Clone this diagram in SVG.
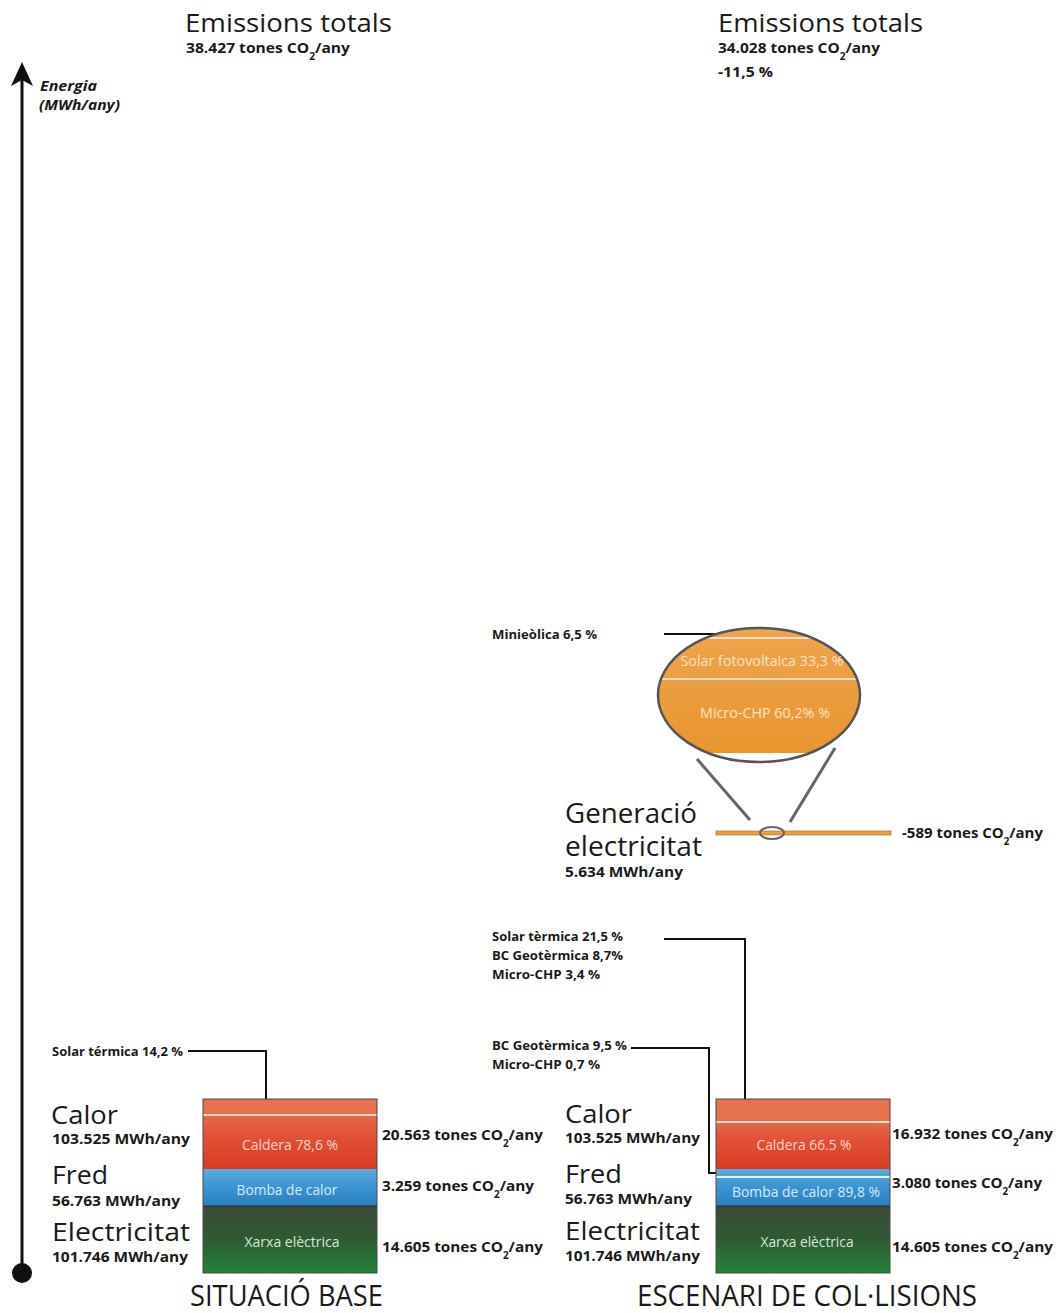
<svg xmlns="http://www.w3.org/2000/svg" width="1061" height="1313" viewBox="0 0 1061 1313">
<style>
text{font-family:"Open Sans","Noto Sans","Liberation Sans",sans-serif;fill:#1a1a1a}
.h{font-size:25px;font-weight:500}
.g{font-size:27px;font-weight:500}
.t{font-size:29px;font-weight:500}
.b{font-size:15px;font-weight:700}
.s{font-size:13px;font-weight:700}
.ax{font-size:14px;font-weight:700;font-style:italic}
.in{font-size:14px;fill:#f7d3c6;text-anchor:middle}
.inb{font-size:14px;fill:#d6ecf8;text-anchor:middle}
.ing{font-size:14px;fill:#d8e8d2;text-anchor:middle}
.ino{font-size:14px;fill:#fbe3c6;text-anchor:middle}
.sub{font-size:65%;baseline-shift:sub}
.con{fill:none;stroke:#111;stroke-width:2}
.gl{fill:none;stroke:#666;stroke-width:3}
.wl{stroke:#f6dccd;stroke-width:2}
.sep{stroke:#2a2a2a;stroke-width:1.2}
.box{fill:none;stroke:#4a4a4a;stroke-width:1}
</style>
<defs>
<linearGradient id="gRed" x1="0" y1="0" x2="0" y2="1">
<stop offset="0" stop-color="#e6684a"/><stop offset="0.35" stop-color="#e25238"/><stop offset="1" stop-color="#d63c24"/>
</linearGradient>
<linearGradient id="gBlue" x1="0" y1="0" x2="0" y2="1">
<stop offset="0" stop-color="#5fabdc"/><stop offset="0.5" stop-color="#3a93d0"/><stop offset="1" stop-color="#2b7fbf"/>
</linearGradient>
<linearGradient id="gGreen" x1="0" y1="0" x2="0" y2="1">
<stop offset="0" stop-color="#3c4a38"/><stop offset="0.5" stop-color="#2f5a33"/><stop offset="1" stop-color="#21843a"/>
</linearGradient>
<linearGradient id="gOr" x1="0" y1="0" x2="0" y2="1">
<stop offset="0" stop-color="#efa54e"/><stop offset="1" stop-color="#e8952f"/>
</linearGradient>
<clipPath id="clipE"><ellipse cx="759" cy="695" rx="101" ry="67"/></clipPath>
</defs>

<!-- axis -->
<g id="axis">
<line x1="22" y1="80" x2="22" y2="1273" stroke="#111" stroke-width="3"/>
<polygon points="22,62 11,86 22,80 33,86" fill="#111"/>
<circle cx="22" cy="1273" r="10" fill="#111"/>
<text class="ax" x="40" y="91" textLength="57" lengthAdjust="spacingAndGlyphs">Energia</text>
<text class="ax" x="39" y="110" textLength="81" lengthAdjust="spacingAndGlyphs">(MWh/any)</text>
</g>

<!-- headers -->
<g id="header-base">
<text class="h" x="185" y="32" textLength="207" lengthAdjust="spacingAndGlyphs">Emissions totals</text>
<text class="b" x="186" y="53" textLength="164" lengthAdjust="spacingAndGlyphs">38.427 tones CO<tspan class="sub">2</tspan>/any</text>
</g>
<g id="header-escenari">
<text class="h" x="718" y="32" textLength="205" lengthAdjust="spacingAndGlyphs">Emissions totals</text>
<text class="b" x="718" y="53" textLength="162" lengthAdjust="spacingAndGlyphs">34.028 tones CO<tspan class="sub">2</tspan>/any</text>
<text class="b" x="718" y="77" textLength="55" lengthAdjust="spacingAndGlyphs">-11,5 %</text>
</g>

<!-- connectors -->
<g id="connectors">
<polyline class="con" points="188,1051 266,1051 266,1108"/>
<polyline class="con" points="664,939 745,939 745,1109"/>
<polyline class="con" points="631,1048 709,1048 709,1173 723,1173"/>
<line class="con" x1="664" y1="634" x2="740" y2="634"/>
<line class="gl" x1="697" y1="759" x2="750" y2="820"/>
<line class="gl" x1="835" y1="748" x2="790" y2="822"/>
</g>

<!-- zoom ellipse -->
<g id="ellipse-generacio">
<g clip-path="url(#clipE)">
<rect x="650" y="626" width="220" height="127" fill="url(#gOr)"/>
<line class="wl" x1="650" y1="638" x2="870" y2="638"/>
<line class="wl" x1="650" y1="679" x2="870" y2="679"/>
</g>
<ellipse cx="759" cy="695" rx="101" ry="67" fill="none" stroke="#555" stroke-width="2.5"/>
<text class="ino" x="762" y="666" textLength="163" lengthAdjust="spacingAndGlyphs">Solar fotovoltaica 33,3 %</text>
<text class="ino" x="765" y="718" textLength="130" lengthAdjust="spacingAndGlyphs">Micro-CHP 60,2% %</text>
<text class="s" x="492" y="639" textLength="105" lengthAdjust="spacingAndGlyphs">Minieòlica 6,5 %</text>
</g>

<!-- generation bar -->
<g id="generacio">
<rect x="716" y="831" width="175" height="4" fill="#eaa040" stroke="#b9813a" stroke-width="0.8"/>
<ellipse cx="772" cy="833" rx="12" ry="6" fill="none" stroke="#666" stroke-width="2"/>
<text class="g" x="565" y="823" textLength="132" lengthAdjust="spacingAndGlyphs">Generació</text>
<text class="g" x="565" y="856" textLength="137" lengthAdjust="spacingAndGlyphs">electricitat</text>
<text class="b" x="565" y="877" textLength="118" lengthAdjust="spacingAndGlyphs">5.634 MWh/any</text>
<text class="b" x="902" y="838" textLength="141" lengthAdjust="spacingAndGlyphs">-589 tones CO<tspan class="sub">2</tspan>/any</text>
</g>

<!-- contribution labels -->
<g id="labels-escenari">
<text class="s" x="492" y="941" textLength="131" lengthAdjust="spacingAndGlyphs">Solar tèrmica 21,5 %</text>
<text class="s" x="492" y="960" textLength="131" lengthAdjust="spacingAndGlyphs">BC Geotèrmica 8,7%</text>
<text class="s" x="492" y="979" textLength="108" lengthAdjust="spacingAndGlyphs">Micro-CHP 3,4 %</text>
<text class="s" x="492" y="1050" textLength="135" lengthAdjust="spacingAndGlyphs">BC Geotèrmica 9,5 %</text>
<text class="s" x="492" y="1069" textLength="108" lengthAdjust="spacingAndGlyphs">Micro-CHP 0,7 %</text>
</g>
<g id="labels-base">
<text class="s" x="52" y="1056" textLength="131" lengthAdjust="spacingAndGlyphs">Solar térmica 14,2 %</text>
</g>

<!-- base stack -->
<g id="stack-base">
<rect x="203" y="1099" width="174" height="17" fill="#e5714e"/>
<rect x="203" y="1116" width="174" height="53" fill="url(#gRed)"/>
<line class="wl" x1="203" y1="1115" x2="377" y2="1115"/>
<rect x="203" y="1169" width="174" height="37" fill="url(#gBlue)"/>
<rect x="203" y="1206" width="174" height="67" fill="url(#gGreen)"/>
<line class="sep" x1="203" y1="1206" x2="377" y2="1206"/>
<rect class="box" x="203" y="1099" width="174" height="174"/>
<text class="in" x="290" y="1150" textLength="96" lengthAdjust="spacingAndGlyphs">Caldera 78,6 %</text>
<text class="inb" x="287" y="1195" textLength="101" lengthAdjust="spacingAndGlyphs">Bomba de calor</text>
<text class="ing" x="292" y="1247" textLength="95" lengthAdjust="spacingAndGlyphs">Xarxa elèctrica</text>
</g>
<g id="text-base">
<text class="h" x="51" y="1124" textLength="67" lengthAdjust="spacingAndGlyphs">Calor</text>
<text class="b" x="52" y="1144" textLength="138" lengthAdjust="spacingAndGlyphs">103.525 MWh/any</text>
<text class="h" x="52" y="1184" textLength="56" lengthAdjust="spacingAndGlyphs">Fred</text>
<text class="b" x="52" y="1206" textLength="128" lengthAdjust="spacingAndGlyphs">56.763 MWh/any</text>
<text class="h" x="52" y="1241" textLength="138" lengthAdjust="spacingAndGlyphs">Electricitat</text>
<text class="b" x="52" y="1262" textLength="136" lengthAdjust="spacingAndGlyphs">101.746 MWh/any</text>
<text class="b" x="382" y="1140" textLength="161" lengthAdjust="spacingAndGlyphs">20.563 tones CO<tspan class="sub">2</tspan>/any</text>
<text class="b" x="382" y="1191" textLength="152" lengthAdjust="spacingAndGlyphs">3.259 tones CO<tspan class="sub">2</tspan>/any</text>
<text class="b" x="382" y="1252" textLength="161" lengthAdjust="spacingAndGlyphs">14.605 tones CO<tspan class="sub">2</tspan>/any</text>
<text class="t" x="190" y="1306" textLength="193" lengthAdjust="spacingAndGlyphs">SITUACIÓ BASE</text>
</g>

<!-- escenari stack -->
<g id="stack-escenari">
<rect x="716" y="1099" width="174" height="23" fill="#e5714e"/>
<rect x="716" y="1123" width="174" height="46" fill="url(#gRed)"/>
<line class="wl" x1="716" y1="1122" x2="890" y2="1122"/>
<rect x="716" y="1169" width="174" height="37" fill="url(#gBlue)"/>
<line stroke="#e6f2fa" stroke-width="2" x1="716" y1="1177" x2="890" y2="1177"/>
<rect x="716" y="1206" width="174" height="67" fill="url(#gGreen)"/>
<line class="sep" x1="716" y1="1206" x2="890" y2="1206"/>
<rect class="box" x="716" y="1099" width="174" height="174"/>
<text class="in" x="804" y="1150" textLength="95" lengthAdjust="spacingAndGlyphs">Caldera 66.5 %</text>
<text class="inb" x="806" y="1197" textLength="148" lengthAdjust="spacingAndGlyphs">Bomba de calor 89,8 %</text>
<text class="ing" x="807" y="1247" textLength="93" lengthAdjust="spacingAndGlyphs">Xarxa elèctrica</text>
</g>
<g id="text-escenari">
<text class="h" x="565" y="1123" textLength="67" lengthAdjust="spacingAndGlyphs">Calor</text>
<text class="b" x="565" y="1143" textLength="135" lengthAdjust="spacingAndGlyphs">103.525 MWh/any</text>
<text class="h" x="565" y="1183" textLength="57" lengthAdjust="spacingAndGlyphs">Fred</text>
<text class="b" x="565" y="1204" textLength="127" lengthAdjust="spacingAndGlyphs">56.763 MWh/any</text>
<text class="h" x="565" y="1240" textLength="135" lengthAdjust="spacingAndGlyphs">Electricitat</text>
<text class="b" x="565" y="1261" textLength="135" lengthAdjust="spacingAndGlyphs">101.746 MWh/any</text>
<text class="b" x="892" y="1139" textLength="161" lengthAdjust="spacingAndGlyphs">16.932 tones CO<tspan class="sub">2</tspan>/any</text>
<text class="b" x="892" y="1188" textLength="150" lengthAdjust="spacingAndGlyphs">3.080 tones CO<tspan class="sub">2</tspan>/any</text>
<text class="b" x="892" y="1252" textLength="161" lengthAdjust="spacingAndGlyphs">14.605 tones CO<tspan class="sub">2</tspan>/any</text>
<text class="t" x="637" y="1306" textLength="340" lengthAdjust="spacingAndGlyphs">ESCENARI DE COL·LISIONS</text>
</g>
</svg>
